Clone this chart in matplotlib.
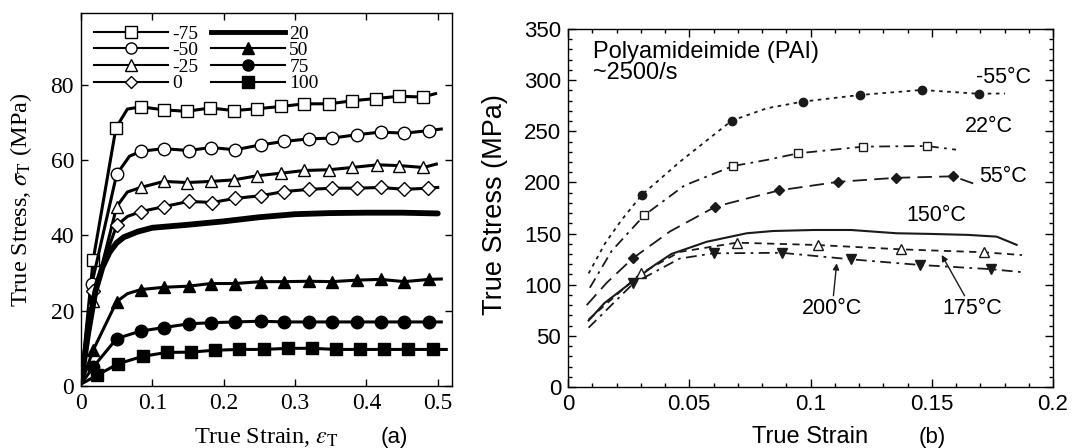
import matplotlib
matplotlib.use("Agg")
import matplotlib.pyplot as plt
from matplotlib.lines import Line2D
from matplotlib.ticker import MultipleLocator

plt.rcParams['mathtext.fontset'] = 'stix'

# ---------------- Panel (a) data: true strain / true stress (MPa) ----------------
a_labels = ['-75', '-50', '-25', '0', '20', '50', '75', '100']

a75n_x = [0, 0.017, 0.049, 0.065, 0.084, 0.116, 0.148, 0.181, 0.214, 0.247, 0.281, 0.313, 0.348, 0.380, 0.413, 0.446, 0.479, 0.497]
a75n_y = [1, 33.4, 68.5, 73.5, 74.1, 73.3, 72.9, 73.8, 73.1, 73.6, 74.2, 74.9, 74.9, 75.7, 76.3, 76.9, 76.7, 77.6]
a50n_x = [0, 0.015, 0.050, 0.068, 0.084, 0.116, 0.151, 0.182, 0.216, 0.252, 0.284, 0.320, 0.352, 0.387, 0.420, 0.453, 0.488, 0.505]
a50n_y = [1, 27.0, 56.2, 61.0, 62.3, 63.0, 62.5, 63.3, 62.7, 64.0, 64.9, 65.6, 65.8, 66.7, 67.4, 67.1, 67.8, 68.2]
a25n_x = [0, 0.017, 0.050, 0.065, 0.084, 0.116, 0.149, 0.182, 0.214, 0.247, 0.281, 0.313, 0.348, 0.380, 0.415, 0.446, 0.480, 0.498]
a25n_y = [1, 22.6, 47.6, 51.5, 52.7, 54.3, 54.0, 54.3, 54.7, 55.8, 56.5, 57.2, 57.4, 58.0, 58.7, 58.5, 58.0, 58.9]
a0_x = [0, 0.017, 0.050, 0.065, 0.084, 0.116, 0.151, 0.184, 0.216, 0.252, 0.284, 0.320, 0.352, 0.387, 0.420, 0.453, 0.486, 0.500]
a0_y = [1, 25.3, 42.6, 45.0, 46.3, 47.6, 49.0, 48.7, 49.8, 50.5, 51.6, 52.2, 52.5, 52.5, 52.7, 52.2, 52.5, 52.7]
a20_x = [0, 0.01, 0.02, 0.03, 0.04, 0.05, 0.06, 0.08, 0.10, 0.15, 0.20, 0.25, 0.30, 0.35, 0.40, 0.45, 0.50]
a20_y = [1, 14, 25, 31.5, 35.5, 38, 39.5, 41, 42, 42.8, 43.7, 44.8, 45.6, 45.9, 46.0, 46.0, 45.8]
a50_x = [0, 0.017, 0.050, 0.065, 0.084, 0.116, 0.151, 0.182, 0.216, 0.252, 0.284, 0.320, 0.352, 0.387, 0.420, 0.453, 0.488, 0.505]
a50_y = [0.5, 9.5, 22.4, 24.5, 25.6, 26.2, 26.5, 27.2, 27.2, 27.7, 27.7, 27.8, 27.7, 28.1, 28.3, 27.7, 28.3, 28.4]
a75_x = [0, 0.017, 0.050, 0.084, 0.116, 0.151, 0.182, 0.216, 0.252, 0.284, 0.320, 0.352, 0.387, 0.420, 0.453, 0.488, 0.505]
a75_y = [0.5, 5.0, 12.6, 14.6, 15.5, 16.5, 16.8, 17.0, 17.2, 17.0, 17.0, 17.0, 17.0, 17.0, 17.0, 17.0, 17.0]
a100_x = [0, 0.022, 0.052, 0.087, 0.120, 0.154, 0.188, 0.222, 0.256, 0.290, 0.324, 0.357, 0.391, 0.425, 0.459, 0.493, 0.512]
a100_y = [0.5, 2.8, 5.9, 7.9, 8.9, 9.0, 9.5, 9.7, 9.7, 10.0, 10.0, 9.7, 9.7, 9.7, 9.7, 9.7, 9.7]

# indices of points carrying a marker
a_knee_marks = [1, 2] + list(range(4, 17))
a_plain_marks = list(range(1, 16))

# ---------------- Panel (b) data ----------------
b_labels = ['-55°C', '22°C', '55°C', '150°C', '175°C', '200°C']

bm55_x = [0.0085, 0.0153, 0.0221, 0.0304, 0.0462, 0.0675, 0.082, 0.0968, 0.1204, 0.1459, 0.1693, 0.1802]
bm55_y = [111, 140.5, 163.3, 187.7, 220.3, 260.4, 272.5, 279, 285.5, 290.4, 286.7, 287]
bm55_marks = [3, 5, 7, 8, 9, 10]
b22_x = [0.009, 0.018, 0.0315, 0.048, 0.068, 0.082, 0.095, 0.1218, 0.148, 0.160]
b22_y = [97, 133, 168, 197, 216, 222, 228.5, 235, 235.6, 232]
b22_marks = [2, 4, 6, 7, 8]
b55_x = [0.0077, 0.016, 0.0267, 0.042, 0.0608, 0.075, 0.0872, 0.1115, 0.1352, 0.1588, 0.1671]
b55_y = [80, 102, 125.8, 152, 176.3, 185, 192.3, 200.6, 204.5, 206, 199]
b55_marks = [2, 4, 6, 7, 8, 9]
b150_x = [0.0085, 0.015, 0.0265, 0.035, 0.0426, 0.0572, 0.0737, 0.0845, 0.1012, 0.1167, 0.1355, 0.1488, 0.165, 0.1768, 0.185]
b150_y = [65, 82, 103, 118, 130, 142, 150.3, 152.5, 153.5, 153.5, 150.3, 149.7, 148.7, 147, 139]
b175_x = [0.0085, 0.0300, 0.046, 0.0696, 0.1030, 0.1372, 0.1716, 0.1872]
b175_y = [66, 111, 132, 141.1, 138.8, 134.6, 131.7, 129]
b175_marks = [1, 3, 4, 5, 6]
b200_x = [0.0085, 0.0270, 0.046, 0.0600, 0.0881, 0.1168, 0.1452, 0.1743, 0.1880]
b200_y = [58, 101.4, 125.5, 130.7, 131.2, 124.8, 119.3, 115.2, 112.1]
b200_marks = [1, 3, 4, 5, 6, 7]

# ---------------- Figure ----------------
W, H = 1072, 448
fig = plt.figure(figsize=(W / 100, H / 100), dpi=100)
serif = ['Liberation Serif', 'DejaVu Serif']
sans = ['Liberation Sans', 'DejaVu Sans']

# ===== Panel (a) =====
ax1 = fig.add_axes([81 / W, 62 / H, 371 / W, 373 / H])
line_lw = 2.2
mk = dict(color='black', markeredgecolor='black', markeredgewidth=1.0)
ax1.plot(a75n_x, a75n_y, marker='s', ms=9, mfc='white', lw=line_lw, markevery=a_knee_marks, **mk)
ax1.plot(a50n_x, a50n_y, marker='o', ms=9, mfc='white', lw=line_lw, markevery=a_knee_marks, **mk)
ax1.plot(a25n_x, a25n_y, marker='^', ms=9, mfc='white', lw=line_lw, markevery=a_knee_marks, **mk)
ax1.plot(a0_x, a0_y, marker='D', ms=7, mfc='white', lw=line_lw, markevery=a_knee_marks, **mk)
ax1.plot(a20_x, a20_y, color='black', lw=4.2, solid_capstyle='round')
ax1.plot(a50_x, a50_y, marker='^', ms=9, mfc='black', lw=line_lw, markevery=a_knee_marks, **mk)
ax1.plot(a75_x, a75_y, marker='o', ms=9, mfc='black', lw=line_lw, markevery=a_plain_marks, **mk)
ax1.plot(a100_x, a100_y, marker='s', ms=9, mfc='black', lw=line_lw, markevery=a_plain_marks, **mk)

ax1.set_xlim(0, 0.52)
ax1.set_ylim(0, 99)
ax1.set_xticks([0, 0.1, 0.2, 0.3, 0.4, 0.5])
ax1.set_xticklabels(['0', '0.1', '0.2', '0.3', '0.4', '0.5'])
ax1.set_yticks([0, 20, 40, 60, 80])
ax1.tick_params(direction='in', top=True, right=True, length=5, width=1, pad=5,
                labelsize=17)
for lab in ax1.get_xticklabels() + ax1.get_yticklabels():
    lab.set_family(serif)
for s in ax1.spines.values():
    s.set_linewidth(1.0)

ax1.set_xlabel(r'True Strain, $\varepsilon_\mathrm{T}$', fontsize=17.5, family=serif)
ax1.set_ylabel(r'True Stress, $\sigma_\mathrm{T}$ (MPa)', fontsize=17.5, family=serif)
ax1.xaxis.set_label_coords(0.5, -0.137)
ax1.xaxis.label.set_va('center')
ax1.yaxis.set_label_coords(-0.162, 0.5)
ax1.yaxis.label.set_va('center')

leg_handles = [
    Line2D([], [], color='black', lw=1.5, marker='s', ms=8, mfc='white', mec='black'),
    Line2D([], [], color='black', lw=1.5, marker='o', ms=8, mfc='white', mec='black'),
    Line2D([], [], color='black', lw=1.5, marker='^', ms=8, mfc='white', mec='black'),
    Line2D([], [], color='black', lw=1.5, marker='D', ms=6.5, mfc='white', mec='black'),
    Line2D([], [], color='black', lw=3.5),
    Line2D([], [], color='black', lw=1.5, marker='^', ms=8, mfc='black', mec='black'),
    Line2D([], [], color='black', lw=1.5, marker='o', ms=8, mfc='black', mec='black'),
    Line2D([], [], color='black', lw=1.5, marker='s', ms=8, mfc='black', mec='black'),
]
ax1.legend(leg_handles, a_labels, ncol=2, loc='upper left', bbox_to_anchor=(0.035, 0.968),
           frameon=False, prop={'family': serif, 'size': 14}, handlelength=3.8,
           handletextpad=0.2, columnspacing=0.7, labelspacing=-0.05, borderpad=0,
           borderaxespad=0)

fig.text(394 / W, 1 - 437 / H, '(a)', family=sans, fontsize=16, ha='center', va='center')

# ===== Panel (b) =====
ax2 = fig.add_axes([568 / W, 61 / H, 485 / W, 358 / H])
c = '#1a1a1a'
ax2.plot(bm55_x, bm55_y, color=c, lw=1.3, ls=(0, (2, 2.5)), marker='o', ms=6,
         mfc=c, mec=c, markevery=bm55_marks)
ax2.plot(b22_x, b22_y, color=c, lw=1.3, ls=(0, (6, 3, 1.5, 3)), marker='s', ms=5.5,
         mfc='white', mec=c, mew=1.0, markevery=b22_marks)
ax2.plot(b55_x, b55_y, color=c, lw=1.3, ls=(0, (8, 4)), marker='D', ms=5.5,
         mfc=c, mec=c, markevery=b55_marks)
ax2.plot(b150_x, b150_y, color=c, lw=1.5, ls='-')
ax2.plot(b175_x, b175_y, color=c, lw=1.3, ls=(0, (4, 3)), marker='^', ms=6.5,
         mfc='white', mec=c, mew=1.0, markevery=b175_marks)
ax2.plot(b200_x, b200_y, color=c, lw=1.3, ls=(0, (6, 3, 1.5, 3)), marker='v', ms=6.5,
         mfc=c, mec=c, markevery=b200_marks)

ax2.set_xlim(0, 0.2)
ax2.set_ylim(0, 350)
ax2.set_xticks([0, 0.05, 0.1, 0.15, 0.2])
ax2.set_xticklabels(['0', '0.05', '0.1', '0.15', '0.2'])
ax2.set_yticks(range(0, 351, 50))
ax2.xaxis.set_minor_locator(MultipleLocator(0.01))
ax2.yaxis.set_minor_locator(MultipleLocator(10))
ax2.tick_params(which='both', direction='in', top=True, right=True, width=1)
ax2.tick_params(which='major', length=6, pad=5, labelsize=16)
ax2.tick_params(which='minor', length=3)
for lab in ax2.get_xticklabels() + ax2.get_yticklabels():
    lab.set_family(sans)
for s in ax2.spines.values():
    s.set_linewidth(1.0)

ax2.set_xlabel('True Strain', fontsize=17, family=sans)
ax2.set_ylabel('True Stress (MPa)', fontsize=19.5, family=sans)
ax2.xaxis.set_label_coords(0.5, -0.14)
ax2.xaxis.label.set_va('center')
ax2.yaxis.set_label_coords(-0.15, 0.51)
ax2.yaxis.label.set_va('center')

ax2.text(0.0103, 338, 'Polyamideimide (PAI)\n~2500/s', family=sans, fontsize=17,
         ha='left', va='top', linespacing=0.95)
tfs = 15.5
ax2.text(0.1794, 302.6, b_labels[0], family=sans, fontsize=tfs, ha='center', va='center')
ax2.text(0.1736, 254.7, b_labels[1], family=sans, fontsize=tfs, ha='center', va='center')
ax2.text(0.1794, 205.8, b_labels[2], family=sans, fontsize=tfs, ha='center', va='center')
ax2.text(0.1518, 167.2, b_labels[3], family=sans, fontsize=tfs, ha='center', va='center')
arrowprops = dict(arrowstyle='-|>', color=c, lw=1.0, mutation_scale=9, shrinkA=0, shrinkB=0)
ax2.annotate(b_labels[4], xy=(0.1541, 129.1), xytext=(0.1666, 76.3), family=sans,
             fontsize=tfs, ha='center', va='center', arrowprops=arrowprops)
ax2.annotate(b_labels[5], xy=(0.1108, 120.9), xytext=(0.1089, 76.3), family=sans,
             fontsize=tfs, ha='center', va='center', arrowprops=arrowprops)

fig.text(932 / W, 1 - 437 / H, '(b)', family=sans, fontsize=16, ha='center', va='center')

fig.savefig('out.png', dpi=100)
